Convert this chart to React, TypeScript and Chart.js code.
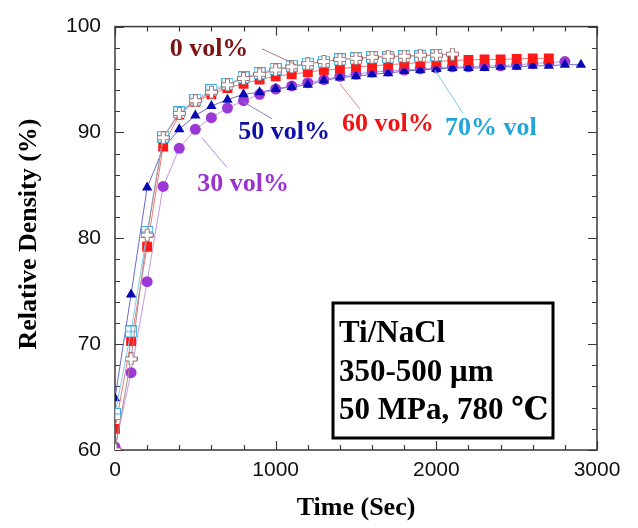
import React, { useEffect, useRef } from 'react';
import { Chart, registerables } from 'chart.js';

Chart.register(...registerables);

// ---------------- data ----------------
const TIME = [0, 100, 200, 300, 400, 500, 600, 700, 800, 900, 1000, 1100, 1200, 1300, 1400, 1500, 1600, 1700, 1800, 1900, 2000, 2100, 2200, 2300, 2400, 2500, 2600, 2700, 2800, 2900];

const SERIES_NAMES = ['0 vol%', '30 vol%', '50 vol%', '60 vol%', '70% vol'];

const VOL0 = [60.0, 68.6, 80.3, 89.5, 91.8, 93.0, 93.8, 94.5, 95.1, 95.5, 95.9, 96.2, 96.5, 96.7, 96.9, 97.0, 97.1, 97.2, 97.2, 97.3, 97.3, 97.4];
const VOL30 = [60.3, 67.3, 75.9, 84.9, 88.5, 90.3, 91.4, 92.3, 93.0, 93.6, 94.1, 94.4, 94.7, 95.0, 95.3, 95.5, 95.7, 95.8, 95.9, 96.0, 96.1, 96.2, 96.2, 96.3, 96.3, 96.4, 96.5, 96.6, 96.7];
const VOL50 = [64.9, 74.7, 84.8, 88.5, 90.3, 91.6, 92.5, 93.1, 93.6, 93.8, 94.1, 94.3, 94.5, 94.9, 95.2, 95.3, 95.5, 95.6, 95.8, 95.9, 96.0, 96.1, 96.1, 96.1, 96.2, 96.2, 96.3, 96.3, 96.4, 96.4];
const VOL60 = [62.0, 70.3, 79.2, 88.7, 91.7, 92.9, 93.6, 94.2, 94.6, 95.0, 95.3, 95.5, 95.7, 95.9, 96.0, 96.2, 96.3, 96.4, 96.5, 96.6, 96.7, 96.8, 96.85, 96.9, 96.9, 96.95, 97.0, 97.0];
const VOL70 = [63.4, 71.2, 80.6, 89.6, 91.9, 93.1, 94.0, 94.6, 95.2, 95.6, 96.0, 96.3, 96.5, 96.7, 96.9, 97.0, 97.1, 97.1, 97.2, 97.2, 97.3];

const X_TICKS = [0, 1000, 2000, 3000];
const Y_TICKS = [60, 70, 80, 90, 100];
const BOX_LINES = ['Ti/NaCl', '350-500 \u03bcm', '50 MPa, 780 \u2103'];
const X_TITLE = 'Time (Sec)';
const Y_TITLE = 'Relative Density (%)';

// annotation placement (data units) - layout only
const ANNOT = [
  { text: '0 vol%', color: '#7d1414', line: '#a87a7a', tx: 585, ty: 97.87, l: [915, 97.9, 1126, 96.4] },
  { text: '30 vol%', color: '#9a33d0', line: '#b58ad6', tx: 797, ty: 85.06, l: [697, 86.7, 541, 89.5] },
  { text: '50 vol%', color: '#1010a8', line: '#7f7fc8', tx: 1052, ty: 89.98, l: [977, 91.3, 797, 92.9] },
  { text: '60 vol%', color: '#ee1515', line: '#d88a8a', tx: 1699, ty: 90.81, l: [1525, 92.2, 1400, 94.6] },
  { text: '70% vol', color: '#22a6d9', line: '#7ccbe8', tx: 2340, ty: 90.35, l: [2166, 91.8, 1991, 95.9] },
];

const SERIF = "'Times New Roman', 'Liberation Serif', 'DejaVu Serif', serif";
const SANS = "Arial, 'Liberation Sans', sans-serif";

function pts(values: number[]) {
  return values.map((v, i) => ({ x: TIME[i], y: v }));
}

function makeCross(): HTMLCanvasElement {
  const c = document.createElement('canvas');
  c.width = 13; c.height = 13;
  const g = c.getContext('2d')!;
  const a = 4.5, b = 8.5, e = 0.5, f = 12.5;
  g.beginPath();
  g.moveTo(a, e); g.lineTo(b, e); g.lineTo(b, a); g.lineTo(f, a); g.lineTo(f, b); g.lineTo(b, b);
  g.lineTo(b, f); g.lineTo(a, f); g.lineTo(a, b); g.lineTo(e, b); g.lineTo(e, a); g.lineTo(a, a); g.closePath();
  g.fillStyle = '#ffffff'; g.fill();
  g.strokeStyle = '#9c7070'; g.lineWidth = 1; g.stroke();
  return c;
}

function makeGridSquare(): HTMLCanvasElement {
  const c = document.createElement('canvas');
  c.width = 12; c.height = 12;
  const g = c.getContext('2d')!;
  g.fillStyle = '#ffffff'; g.fillRect(0.5, 0.5, 11, 11);
  g.strokeStyle = '#3cb0e0'; g.lineWidth = 1;
  g.strokeRect(0.5, 0.5, 11, 11);
  g.beginPath(); g.moveTo(6, 0.5); g.lineTo(6, 11.5); g.moveTo(0.5, 6); g.lineTo(11.5, 6); g.stroke();
  return c;
}

const decorPlugin = {
  id: 'decor',
  beforeDatasetsDraw(chart: any) {
    const { ctx, chartArea, scales } = chart;
    const { left, right, top, bottom } = chartArea;
    const x = scales.x, y = scales.y;
    ctx.save();
    ctx.strokeStyle = '#3a3a3a';
    ctx.lineWidth = 1.2;
    for (let v = 0; v <= 3000; v += 200) {
      const px = Math.round(x.getPixelForValue(v)) + 0.5;
      const len = v % 1000 === 0 ? 9 : 5;
      ctx.beginPath();
      ctx.moveTo(px, bottom); ctx.lineTo(px, bottom - len);
      ctx.moveTo(px, top); ctx.lineTo(px, top + len);
      ctx.stroke();
    }
    for (let v = 60; v <= 100; v += 2) {
      const py = Math.round(y.getPixelForValue(v)) + 0.5;
      const len = v % 10 === 0 ? 9 : 5;
      ctx.beginPath();
      ctx.moveTo(left, py); ctx.lineTo(left + len, py);
      ctx.moveTo(right, py); ctx.lineTo(right - len, py);
      ctx.stroke();
    }
    ctx.lineWidth = 1.5;
    ctx.strokeRect(left, top, right - left, bottom - top);
    ctx.restore();
  },
  afterDatasetsDraw(chart: any) {
    const { ctx, scales } = chart;
    const x = scales.x, y = scales.y;
    ctx.save();
    // annotations
    for (const a of ANNOT) {
      ctx.strokeStyle = a.line;
      ctx.lineWidth = 1;
      ctx.beginPath();
      ctx.moveTo(x.getPixelForValue(a.l[0]), y.getPixelForValue(a.l[1]));
      ctx.lineTo(x.getPixelForValue(a.l[2]), y.getPixelForValue(a.l[3]));
      ctx.stroke();
      ctx.fillStyle = a.color;
      ctx.font = `bold 26px ${SERIF}`;
      ctx.textAlign = 'center';
      ctx.textBaseline = 'middle';
      ctx.fillText(a.text, x.getPixelForValue(a.tx), y.getPixelForValue(a.ty));
    }
    // info box
    ctx.fillStyle = '#ffffff';
    ctx.fillRect(333, 303, 220, 135);
    ctx.strokeStyle = '#000000';
    ctx.lineWidth = 3;
    ctx.strokeRect(333, 303, 220, 135);
    ctx.fillStyle = '#000000';
    ctx.font = `bold 31px ${SERIF}`;
    ctx.textAlign = 'left';
    ctx.textBaseline = 'middle';
    BOX_LINES.forEach((t, i) => ctx.fillText(t, 339, 334 + i * 38.5));
    // axis titles
    ctx.font = `bold 26px ${SERIF}`;
    ctx.textAlign = 'center';
    ctx.fillText(X_TITLE, 356, 508);
    ctx.translate(29, 234);
    ctx.rotate(-Math.PI / 2);
    ctx.fillText(Y_TITLE, 0, 0);
    ctx.restore();
  },
};

export default function App() {
  const ref = useRef<HTMLCanvasElement>(null);
  useEffect(() => {
    document.body.style.margin = '0';
    const canvas = ref.current!;
    const cross = makeCross();
    const gsq = makeGridSquare();
    const common = { borderWidth: 1, showLine: true, tension: 0, fill: false };
    const chart = new Chart(canvas, {
      type: 'line',
      data: {
        datasets: [
          { ...common, label: SERIES_NAMES[0], data: pts(VOL0), borderColor: '#b88888', pointStyle: cross as any, pointRadius: 6 },
          { ...common, label: SERIES_NAMES[4], data: pts(VOL70), borderColor: '#7fcdea', pointStyle: gsq as any, pointRadius: 6 },
          { ...common, label: SERIES_NAMES[3], data: pts(VOL60), borderColor: '#e87a7a', backgroundColor: '#ff1a1a', pointBackgroundColor: '#ff1a1a', pointBorderColor: '#ff1a1a', pointStyle: 'rect', pointRadius: 7, pointBorderWidth: 0 },
          { ...common, label: SERIES_NAMES[2], data: pts(VOL50), borderColor: '#6a6acc', backgroundColor: '#0a0ab4', pointBackgroundColor: '#0a0ab4', pointBorderColor: '#0a0ab4', pointStyle: 'triangle', pointRadius: 6, pointBorderWidth: 0 },
          { ...common, label: SERIES_NAMES[1], data: pts(VOL30), borderColor: '#c39ae0', backgroundColor: '#9b38d6', pointBackgroundColor: '#9b38d6', pointBorderColor: '#9b38d6', pointStyle: 'circle', pointRadius: 5.5, pointBorderWidth: 0 },
        ],
      },
      options: {
        animation: false,
        responsive: false,
        devicePixelRatio: 1,
        events: [],
        layout: { padding: { top: 19, right: 41, left: 0, bottom: 0 } },
        plugins: { legend: { display: false }, tooltip: { enabled: false } },
        scales: {
          x: {
            type: 'linear',
            min: 0,
            max: 3000,
            afterFit: (s: any) => { s.height = 78; },
            afterBuildTicks: (s: any) => { s.ticks = X_TICKS.map((v) => ({ value: v })); },
            grid: { display: false, drawTicks: false },
            border: { display: false },
            ticks: { color: '#111', font: { family: SANS, size: 21 }, padding: 8, maxRotation: 0, callback: (v: any) => String(v) },
          },
          y: {
            type: 'linear',
            min: 60,
            max: 100,
            afterFit: (s: any) => { s.width = 115; },
            afterBuildTicks: (s: any) => { s.ticks = Y_TICKS.map((v) => ({ value: v })); },
            grid: { display: false, drawTicks: false },
            border: { display: false },
            ticks: { color: '#111', font: { family: SANS, size: 21 }, padding: 14, callback: (v: any) => String(v) },
          },
        },
      },
      plugins: [decorPlugin],
    });
    return () => chart.destroy();
  }, []);
  return (
    <div style={{ width: 638, height: 528, background: '#ffffff' }}>
      <canvas ref={ref} width={638} height={528} style={{ display: 'block' }} />
    </div>
  );
}
